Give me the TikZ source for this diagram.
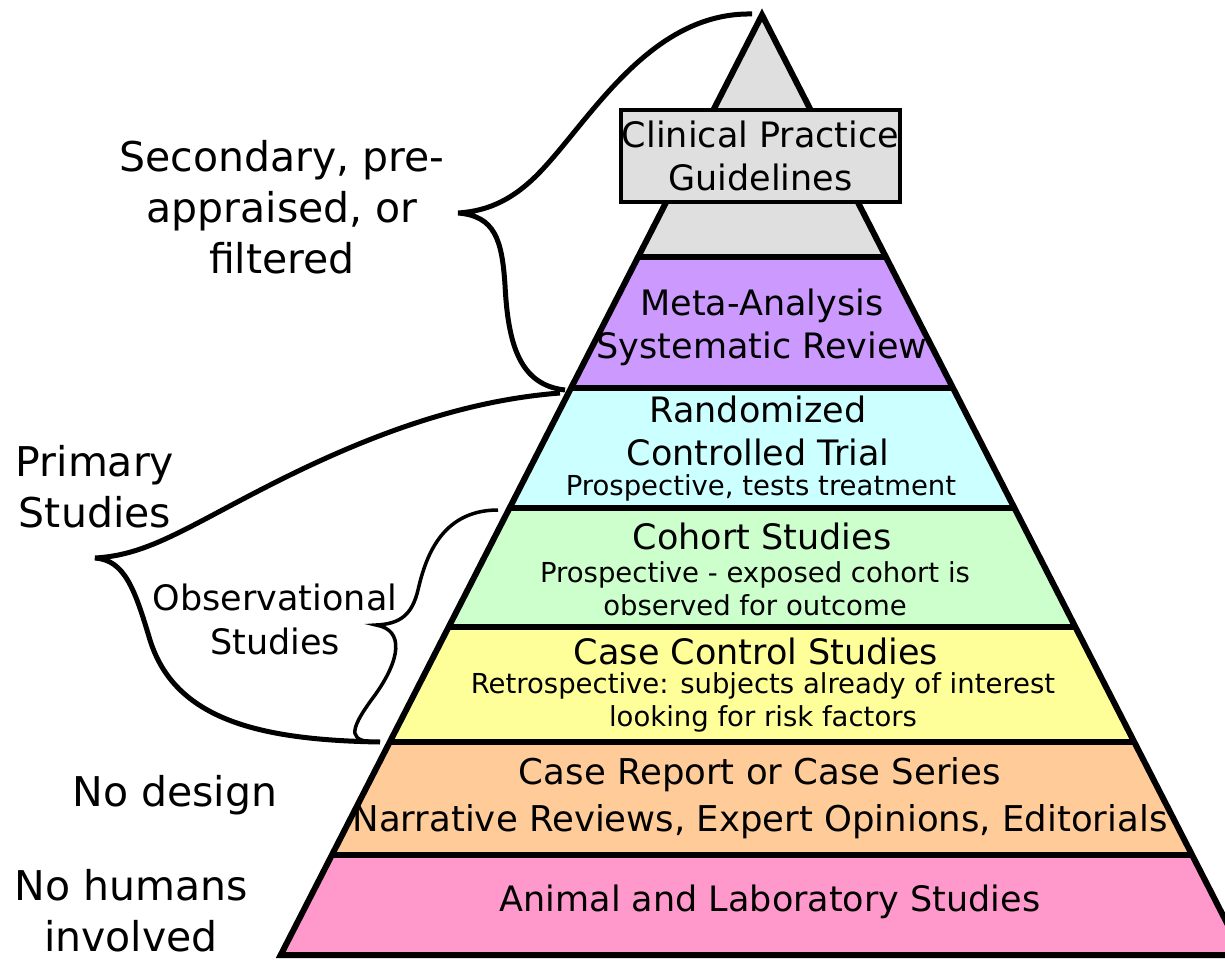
\documentclass[tikz,border=0pt]{standalone}
\usepackage{fontspec}
\setmainfont{DejaVu Sans}
\definecolor{cgray}{HTML}{DFDFDF}
\definecolor{cpurple}{HTML}{CC99FF}
\definecolor{ccyan}{HTML}{CCFFFF}
\definecolor{cgreen}{HTML}{CCFFCC}
\definecolor{cyellow}{HTML}{FFFF99}
\definecolor{corange}{HTML}{FFCC99}
\definecolor{cpink}{HTML}{FF99CC}
\begin{document}
\begin{tikzpicture}[x=1pt,y=-1pt,
  maintext/.style={align=center,inner sep=0pt,font=\fontsize{35}{43}\selectfont},
  subtext/.style={align=center,inner sep=0pt,font=\fontsize{27.5}{33}\selectfont},
  sidetext/.style={align=center,inner sep=0pt,font=\fontsize{41}{51}\selectfont},
  outline/.style={line width=6pt,line join=miter},
  bigbrace/.style={line width=5pt,line join=miter},
  smallbrace/.style={line width=3.5pt,line join=miter}]
\useasboundingbox (0,0) rectangle (1225,960);

% pyramid corners and level boundaries
\coordinate (apex) at (762,15);
\coordinate (l1) at (638.1,257) ; \coordinate (r1) at (885.9,257);
\coordinate (l2) at (571.0,388) ; \coordinate (r2) at (953.0,388);
\coordinate (l3) at (509.6,508) ; \coordinate (r3) at (1014.4,508);
\coordinate (l4) at (448.7,627) ; \coordinate (r4) at (1075.3,627);
\coordinate (l5) at (389.8,742) ; \coordinate (r5) at (1134.2,742);
\coordinate (l6) at (331.9,855) ; \coordinate (r6) at (1192.1,855);
\coordinate (l7) at (280.7,955) ; \coordinate (r7) at (1243.3,955);

\begin{scope}
\clip (0,0) rectangle (1225,960);
\fill[cgray]   (apex) -- (r1) -- (l1) -- cycle;
\fill[cpurple] (l1) -- (r1) -- (r2) -- (l2) -- cycle;
\fill[ccyan]   (l2) -- (r2) -- (r3) -- (l3) -- cycle;
\fill[cgreen]  (l3) -- (r3) -- (r4) -- (l4) -- cycle;
\fill[cyellow] (l4) -- (r4) -- (r5) -- (l5) -- cycle;
\fill[corange] (l5) -- (r5) -- (r6) -- (l6) -- cycle;
\fill[cpink]   (l6) -- (r6) -- (r7) -- (l7) -- cycle;
\draw[outline] (apex) -- (r7) -- (l7) -- cycle;
\foreach \i in {1,...,6} \draw[line width=6pt] (l\i) -- (r\i);
\end{scope}

% level labels
\node[maintext,draw=black,line width=3.5pt,fill=cgray,minimum width=279pt,minimum height=92pt]
  (cpg) at (760.5,156) {Clinical Practice\\Guidelines};
\node[maintext] (meta) at (762,327) {Meta-Analysis\\Systematic Review};
\node[maintext] (rct) at (758,431) {Randomized\\Controlled Trial};
\node[subtext] (rctsub) at (761,488) {Prospective, tests treatment};
\node[maintext] (cohort) at (762,536) {Cohort Studies};
\node[subtext] (cohortsub) at (755,589) {Prospective - exposed cohort is\\observed for outcome};
\node[maintext] (cc) at (756,651) {Case Control Studies};
\node[subtext] (ccsub) at (763,702) {Retrospective: subjects already of interest\\looking for risk factors};
\node[maintext,font=\fontsize{35.5}{47}\selectfont] (cr) at (760,798) {Case Report or Case Series\\Narrative Reviews, Expert Opinions, Editorials};
\node[maintext] (animal) at (770,902) {Animal and Laboratory Studies};

% side labels
\node[sidetext] (secondary) at (282,207) {Secondary, pre-\\appraised, or\\filtered};
\node[sidetext] (primary) at (95,487) {Primary\\Studies};
\node[maintext,font=\fontsize{35}{44}\selectfont] (observ) at (275,619) {Observational\\Studies};
\node[sidetext] (nodesign) at (175,795) {No design};
\node[sidetext] (nohumans) at (131,911) {No humans\\involved};

% braces
\coordinate (sTop) at (752,14);
\coordinate (sTip) at (458,213);
\coordinate (sBot) at (565,390);
\draw[bigbrace] (sTop) .. controls (650,12) and (590,120) .. (540,172)
  .. controls (515,198) and (490,211) .. (sTip)
  .. controls (495,216) and (502,240) .. (505,285)
  .. controls (508,345) and (520,385) .. (sBot);

\coordinate (pTop) at (560,393);
\coordinate (pTip) at (95,558);
\coordinate (pBot) at (380,742);
\draw[bigbrace] (pTop) .. controls (470,400) and (380,430) .. (280,480)
  .. controls (190,525) and (150,555) .. (pTip)
  .. controls (125,560) and (135,590) .. (150,640)
  .. controls (175,720) and (260,740) .. (pBot);

\coordinate (oTop) at (498,510);
\coordinate (oTip) at (376,625);
\coordinate (oBot) at (380,742);
\draw[smallbrace] (oTop) .. controls (440,510) and (425,560) .. (418,590)
  .. controls (412,615) and (400,624) .. (oTip)
  .. controls (405,630) and (400,660) .. (375,695)
  .. controls (345,735) and (350,742) .. (oBot);
\end{tikzpicture}
\end{document}
